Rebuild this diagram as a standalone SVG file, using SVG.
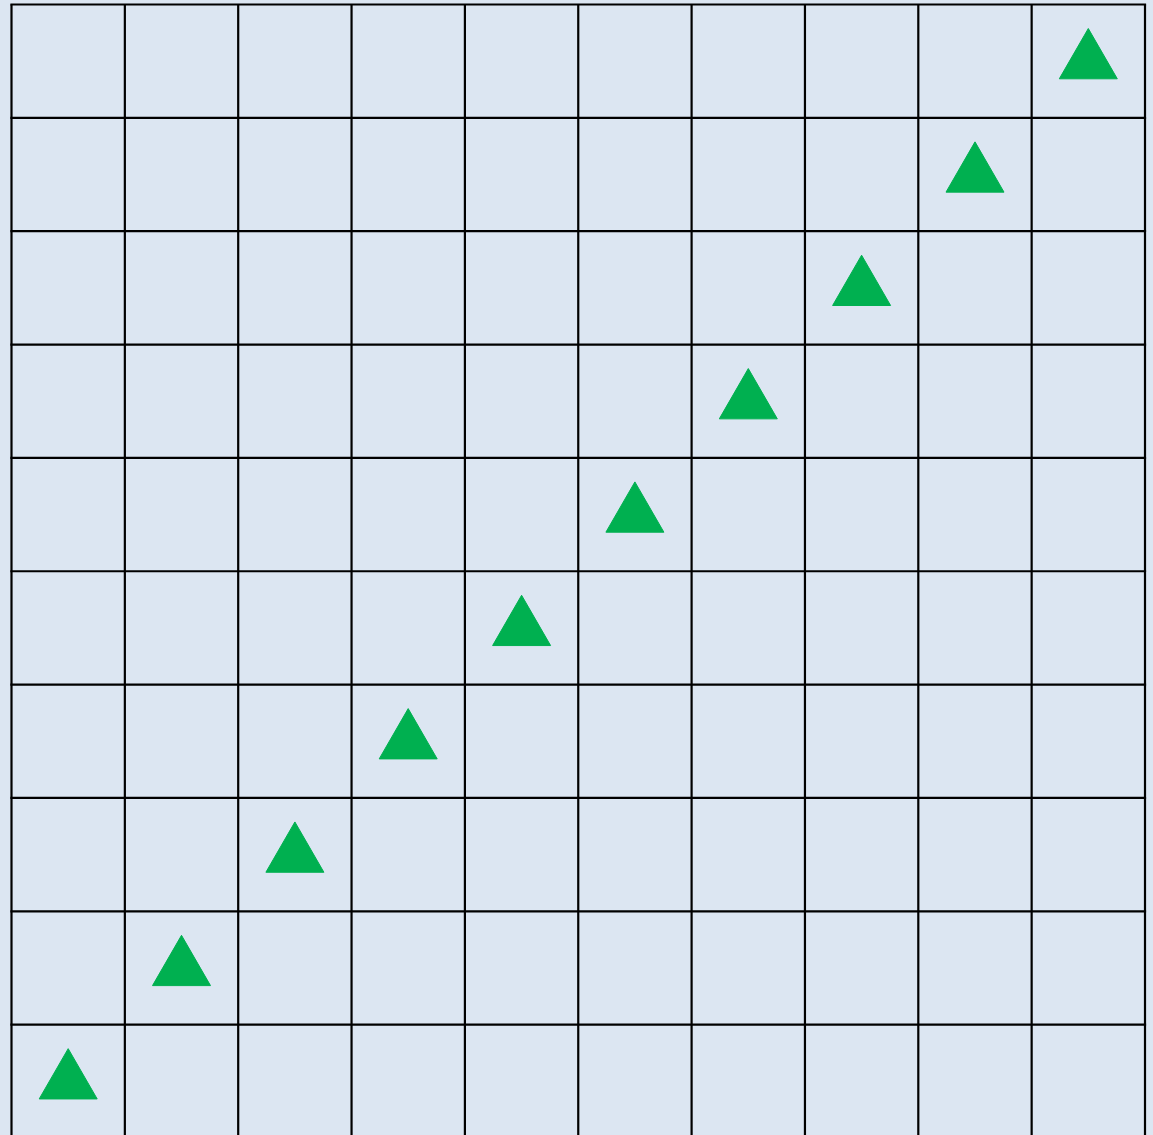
<svg xmlns="http://www.w3.org/2000/svg" xmlns:xlink="http://www.w3.org/1999/xlink" width="1153" height="1135" viewBox="0 0 1153 1135">
<style>
.grid line{stroke:#000;stroke-width:2.2}
.tri{fill:#00b050;stroke:#00b050;stroke-width:1;stroke-linejoin:round}
</style>
<defs>
<path id="t" class="tri" d="M0,24 L29,74.3 L-29,74.3 Z"/>
</defs>
<rect width="1153" height="1135" fill="#dce6f2"/>
<g id="grid" class="grid">
<line x1="11.5" y1="4.5" x2="11.5" y2="1140"/>
<line x1="124.85" y1="4.5" x2="124.85" y2="1140"/>
<line x1="238.2" y1="4.5" x2="238.2" y2="1140"/>
<line x1="351.55" y1="4.5" x2="351.55" y2="1140"/>
<line x1="464.9" y1="4.5" x2="464.9" y2="1140"/>
<line x1="578.25" y1="4.5" x2="578.25" y2="1140"/>
<line x1="691.6" y1="4.5" x2="691.6" y2="1140"/>
<line x1="804.95" y1="4.5" x2="804.95" y2="1140"/>
<line x1="918.3" y1="4.5" x2="918.3" y2="1140"/>
<line x1="1031.65" y1="4.5" x2="1031.65" y2="1140"/>
<line x1="1145" y1="4.5" x2="1145" y2="1140"/>
<line x1="10.4" y1="4.5" x2="1146.1" y2="4.5"/>
<line x1="10.4" y1="117.85" x2="1146.1" y2="117.85"/>
<line x1="10.4" y1="231.2" x2="1146.1" y2="231.2"/>
<line x1="10.4" y1="344.55" x2="1146.1" y2="344.55"/>
<line x1="10.4" y1="457.9" x2="1146.1" y2="457.9"/>
<line x1="10.4" y1="571.25" x2="1146.1" y2="571.25"/>
<line x1="10.4" y1="684.6" x2="1146.1" y2="684.6"/>
<line x1="10.4" y1="797.95" x2="1146.1" y2="797.95"/>
<line x1="10.4" y1="911.3" x2="1146.1" y2="911.3"/>
<line x1="10.4" y1="1024.65" x2="1146.1" y2="1024.65"/>
</g>
<g id="markers">
<use id="m0" xlink:href="#t" href="#t" x="68.2" y="1024.65"/>
<use id="m1" xlink:href="#t" href="#t" x="181.5" y="911.3"/>
<use id="m2" xlink:href="#t" href="#t" x="294.9" y="797.95"/>
<use id="m3" xlink:href="#t" href="#t" x="408.2" y="684.6"/>
<use id="m4" xlink:href="#t" href="#t" x="521.6" y="571.25"/>
<use id="m5" xlink:href="#t" href="#t" x="634.9" y="457.9"/>
<use id="m6" xlink:href="#t" href="#t" x="748.3" y="344.55"/>
<use id="m7" xlink:href="#t" href="#t" x="861.6" y="231.2"/>
<use id="m8" xlink:href="#t" href="#t" x="975.0" y="117.85"/>
<use id="m9" xlink:href="#t" href="#t" x="1088.3" y="4.5"/>
</g>
</svg>
